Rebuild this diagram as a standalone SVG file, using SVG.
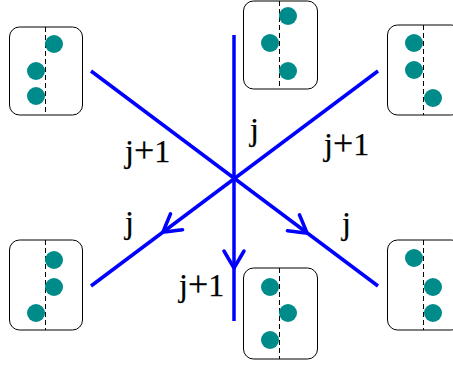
<svg xmlns="http://www.w3.org/2000/svg" width="453" height="366" viewBox="0 0 453 366">
<style>
.box{fill:#fff;stroke:#000;stroke-width:1}
.axis{stroke:#000;stroke-width:1;stroke-dasharray:5,3}
.dot{fill:#008b8b}
.edge{stroke:#0000ff;stroke-width:3.5;fill:none;stroke-linecap:butt}
.head{stroke:#0000ff;stroke-width:3.5;fill:none;stroke-linecap:round;stroke-linejoin:miter}
.pl{font-size:36px}
</style>
<defs>
<path id="ah" class="head" d="M -17,-10 Q -5,-3 0,0 Q -5,3 -17,10"/>
</defs>
<rect width="453" height="366" fill="#fff"/>
<g id="connectors">
<line class="edge" x1="234" y1="35" x2="234" y2="321"/>
<line class="edge" x1="91" y1="71" x2="378" y2="286"/>
<line class="edge" x1="378" y1="71" x2="91" y2="286"/>
<use href="#ah" transform="translate(234,268) rotate(90)"/>
<use href="#ah" transform="translate(163,232) rotate(143)"/>
<use href="#ah" transform="translate(307,233) rotate(37)"/>
</g>
<g id="labels" font-family="'Liberation Serif', 'DejaVu Serif', serif" font-size="32" fill="#000" stroke="#000" stroke-width="0.25">
<text x="125" y="162">j<tspan class="pl" dx="0">+</tspan><tspan dx="0">1</tspan></text>
<text x="250" y="140">j</text>
<text x="324" y="155">j<tspan class="pl" dx="0">+</tspan><tspan dx="0">1</tspan></text>
<text x="125" y="233">j</text>
<text x="342" y="234">j</text>
<text x="179" y="296">j<tspan class="pl" dx="0">+</tspan><tspan dx="0">1</tspan></text>
</g>
<g id="node-tl">
<rect class="box" x="9.5" y="27" width="73" height="88" rx="10"/>
<line class="axis" x1="45.5" y1="27" x2="45.5" y2="115"/>
<circle class="dot" cx="54" cy="44" r="9"/>
<circle class="dot" cx="36" cy="71" r="9"/>
<circle class="dot" cx="36" cy="96" r="9"/>
</g>
<g id="node-tm">
<rect class="box" x="243.5" y="1" width="74" height="88" rx="10"/>
<line class="axis" x1="279.5" y1="1" x2="279.5" y2="89"/>
<circle class="dot" cx="288" cy="16" r="9"/>
<circle class="dot" cx="270" cy="43" r="9"/>
<circle class="dot" cx="288" cy="71" r="9"/>
</g>
<g id="node-tr">
<rect class="box" x="387.5" y="25" width="74" height="90" rx="10"/>
<line class="axis" x1="423.5" y1="25" x2="423.5" y2="115"/>
<circle class="dot" cx="414" cy="43" r="9"/>
<circle class="dot" cx="414" cy="70" r="9"/>
<circle class="dot" cx="433" cy="98" r="9"/>
</g>
<g id="node-bl">
<rect class="box" x="9.5" y="240" width="73" height="90" rx="10"/>
<line class="axis" x1="45.5" y1="240" x2="45.5" y2="330"/>
<circle class="dot" cx="54" cy="260" r="9"/>
<circle class="dot" cx="54" cy="287" r="9"/>
<circle class="dot" cx="36" cy="313" r="9"/>
</g>
<g id="node-bm">
<rect class="box" x="243.5" y="268" width="74" height="91" rx="10"/>
<line class="axis" x1="279.5" y1="268" x2="279.5" y2="359"/>
<circle class="dot" cx="270" cy="287" r="9"/>
<circle class="dot" cx="288" cy="313" r="9"/>
<circle class="dot" cx="270" cy="340" r="9"/>
</g>
<g id="node-br">
<rect class="box" x="387.5" y="240" width="74" height="90" rx="10"/>
<line class="axis" x1="423.5" y1="240" x2="423.5" y2="330"/>
<circle class="dot" cx="414" cy="258" r="9"/>
<circle class="dot" cx="433" cy="287" r="9"/>
<circle class="dot" cx="433" cy="313" r="9"/>
</g>
</svg>
